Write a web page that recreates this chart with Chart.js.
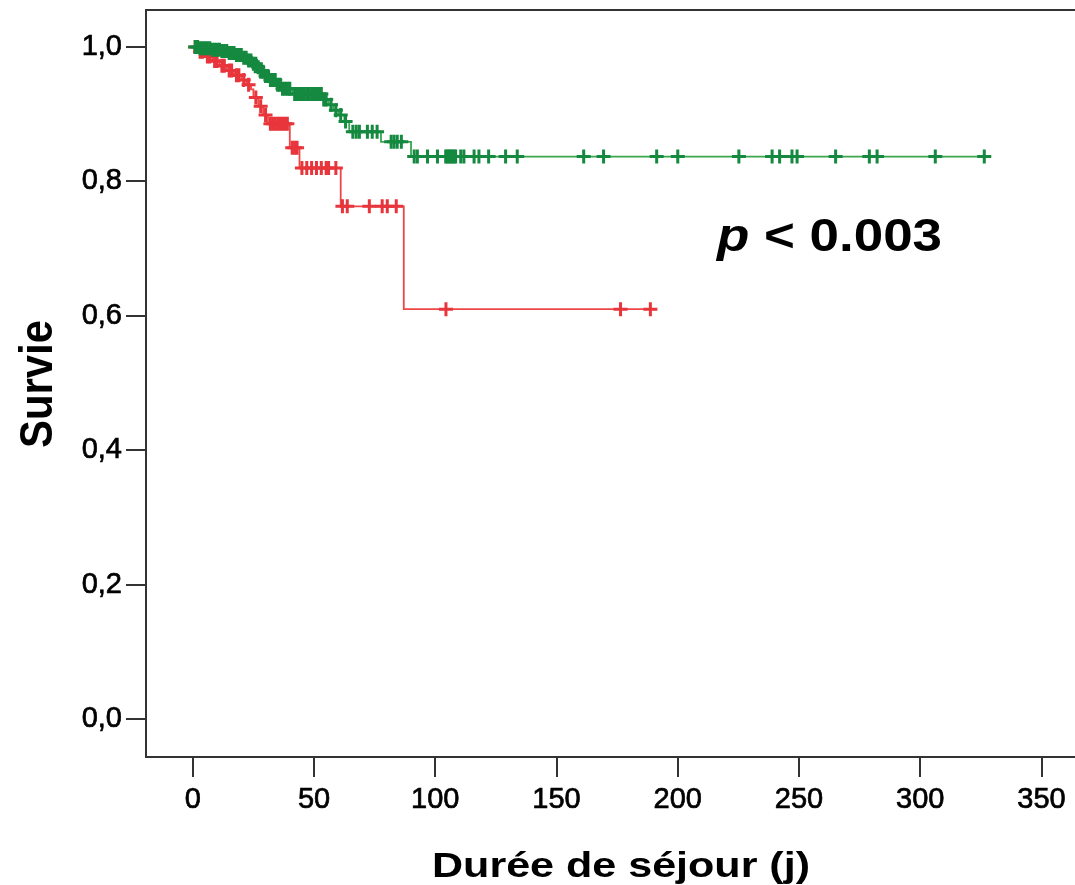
<!DOCTYPE html>
<html>
<head>
<meta charset="utf-8">
<title>Survie – durée de séjour</title>
<script src="https://cdn.jsdelivr.net/npm/chart.js@4/dist/chart.umd.min.js"></script>
<style>
  html, body { margin: 0; padding: 0; background: #fff; overflow: hidden; }
  #wrap { width: 1100px; height: 885px; }
</style>
</head>
<body>
<div id="wrap"><canvas id="km" width="1100" height="885"></canvas></div>
<script>
// Axis tick labels
const xTicks = [0, 50, 100, 150, 200, 250, 300, 350];
const yTicks = [0, 0.2, 0.4, 0.6, 0.8, 1.0];

// Green group: event days and survival after each event
const greenEventDays = [0, 3, 8, 12, 15, 18, 21, 23, 25, 26.5, 28, 30, 32, 35, 37, 41, 53.5, 56, 58, 60, 62.5, 64.5, 77.6, 90];
const greenSurvival  = [1.0, 0.998, 0.996, 0.994, 0.991, 0.988, 0.984, 0.980, 0.975, 0.970, 0.963, 0.957, 0.951, 0.944, 0.938, 0.930, 0.922, 0.914, 0.906, 0.899, 0.889, 0.874, 0.859, 0.837];
const greenLastDay = 327;
// Green group: censored patients (days)
const greenCensoredDays = [
  1, 2, 3, 4, 5, 6, 7, 8, 9, 10, 11, 12, 13, 14, 15, 16, 17, 18, 19, 20,
  21, 22, 23, 24, 25, 26, 27, 28, 29, 30, 31, 32, 33, 34, 35, 36, 37, 38, 39, 40,
  42, 43, 44, 45, 46, 47, 48, 49, 50, 51, 52, 53, 54, 55, 57, 59, 61, 63,
  66, 67.4, 68.7, 72, 74, 76, 81.8, 83, 84.3, 86,
  91.3, 92.6, 96.8, 100.9, 104.3, 105, 105.7, 106.4, 107, 107.7, 108.4, 110.5, 111.8,
  116, 118, 122, 129, 133.8, 161.2, 169.4, 191.3, 200, 225.2, 238.9, 242, 247.1, 249.2,
  265.1, 279, 282.2, 306.2, 326.4
];

// Red group: event days and survival after each event
const redEventDays = [0, 2, 5, 8, 11, 14, 17, 20, 22, 24, 25, 27, 29, 31, 40, 44, 61, 87];
const redSurvival  = [1.0, 0.993, 0.986, 0.979, 0.972, 0.965, 0.958, 0.951, 0.944, 0.937, 0.925, 0.912, 0.899, 0.886, 0.850, 0.820, 0.763, 0.610];
const redLastDay = 190;
// Red group: censored patients (days)
const redCensoredDays = [
  1, 3, 4, 6, 7, 9, 10, 12, 13, 15, 16, 18, 19, 21, 23, 26, 28, 30, 32, 33,
  34, 35, 36, 37, 38, 39, 41, 42, 43, 45, 47, 49, 51, 53, 55, 56, 59,
  61.7, 63.7, 72.8, 78.1, 80.2, 83.9, 104.4, 176.4, 188.7
];

const FONT = "'Liberation Sans', Arial, Helvetica, sans-serif";

// Kaplan–Meier step points (event points plus the last follow-up day)
function stepPoints(days, surv, lastDay) {
  const pts = days.map((d, i) => ({ x: d, y: surv[i] }));
  pts.push({ x: lastDay, y: surv[surv.length - 1] });
  return pts;
}
// Survival level of the step curve at day t
function survivalAt(days, surv, t) {
  let s = surv[0];
  for (let i = 0; i < days.length; i++) if (days[i] <= t) s = surv[i];
  return s;
}
function censorPoints(cDays, days, surv) {
  return cDays.map(t => ({ x: t, y: survivalAt(days, surv, t) }));
}

// Draws text horizontally fitted to a given width
function fitText(ctx, text, x, y, font, width) {
  ctx.save();
  ctx.font = font;
  const w = ctx.measureText(text).width;
  ctx.translate(x, y);
  ctx.scale(width / w, 1);
  ctx.textAlign = 'left';
  ctx.textBaseline = 'alphabetic';
  ctx.fillText(text, 0, 0);
  ctx.restore();
}

const decorations = {
  id: 'decorations',
  afterDraw(chart) {
    const { ctx, chartArea } = chart;
    ctx.save();
    // top frame line
    ctx.strokeStyle = '#333';
    ctx.lineWidth = 2;
    ctx.beginPath();
    ctx.moveTo(chartArea.left - 1, chartArea.top);
    ctx.lineTo(chartArea.right, chartArea.top);
    ctx.stroke();

    ctx.fillStyle = '#000';
    // x axis title
    fitText(ctx, 'Durée de séjour (j)', 432, 877, 'bold 35px ' + FONT, 378);

    // y axis title (rotated)
    ctx.save();
    ctx.translate(52, 448);
    ctx.rotate(-Math.PI / 2);
    fitText(ctx, 'Survie', 0, 0, 'bold 46px ' + FONT, 128);
    ctx.restore();

    // p-value annotation
    ctx.save();
    const pFont = 'italic bold 47px ' + FONT;
    const restFont = 'bold 47px ' + FONT;
    ctx.font = pFont;
    const w1 = ctx.measureText('p').width;
    ctx.font = restFont;
    const w2 = ctx.measureText(' < 0.003').width;
    const k = 225 / (w1 + w2);
    ctx.translate(717, 251);
    ctx.scale(k, 1);
    ctx.textBaseline = 'alphabetic';
    ctx.font = pFont;
    ctx.fillText('p', 0, 0);
    ctx.font = restFont;
    ctx.fillText(' < 0.003', w1, 0);
    ctx.restore();

    ctx.restore();
  }
};

const greenLine = stepPoints(greenEventDays, greenSurvival, greenLastDay);
const redLine = stepPoints(redEventDays, redSurvival, redLastDay);
const greenMarks = censorPoints(greenCensoredDays, greenEventDays, greenSurvival);
const redMarks = censorPoints(redCensoredDays, redEventDays, redSurvival);

const axisGrid = { drawOnChartArea: false, drawTicks: true, tickLength: 20, color: '#333', lineWidth: 2 };
const axisBorder = { display: true, color: '#333', width: 2 };
const tickFont = { family: FONT, size: 29 };

new Chart(document.getElementById('km'), {
  type: 'line',
  data: {
    datasets: [
      { data: redLine, stepped: 'before', borderColor: '#ee4646', borderWidth: 1.8, pointRadius: 0, fill: false, order: 4 },
      { data: redMarks, showLine: false, pointStyle: 'cross', pointRadius: 7, pointBorderWidth: 3,
        pointBorderColor: '#e8353b', pointBackgroundColor: '#e8353b', order: 3 },
      { data: greenLine, stepped: 'before', borderColor: '#3aa64e', borderWidth: 1.8, pointRadius: 0, fill: false, order: 2 },
      { data: greenMarks, showLine: false, pointStyle: 'cross', pointRadius: 7, pointBorderWidth: 3,
        pointBorderColor: '#14893f', pointBackgroundColor: '#14893f', order: 1 }
    ]
  },
  options: {
    responsive: false,
    devicePixelRatio: 1,
    animation: false,
    events: [],
    layout: { padding: { top: 8, right: 7, left: 0, bottom: 0 } },
    plugins: { legend: { display: false }, tooltip: { enabled: false } },
    scales: {
      x: {
        type: 'linear',
        min: -19.3,
        max: 370,
        afterBuildTicks: s => { s.ticks = xTicks.map(v => ({ value: v })); },
        afterFit: s => { s.height = 128; s.paddingLeft = 0; s.paddingRight = 0; },
        grid: axisGrid,
        border: axisBorder,
        ticks: { font: tickFont, color: '#000', textStrokeColor: '#000', textStrokeWidth: 0.7,
                 padding: 6, maxRotation: 0, autoSkip: false, callback: v => String(v) }
      },
      y: {
        type: 'linear',
        min: -0.056,
        max: 1.055,
        afterBuildTicks: s => { s.ticks = yTicks.map(v => ({ value: v })); },
        afterFit: s => { s.width = 146; s.paddingTop = 0; s.paddingBottom = 0; },
        grid: axisGrid,
        border: axisBorder,
        ticks: { font: tickFont, color: '#000', textStrokeColor: '#000', textStrokeWidth: 0.7,
                 padding: 4, autoSkip: false, callback: v => v.toFixed(1).replace('.', ',') }
      }
    }
  },
  plugins: [decorations]
});
</script>
</body>
</html>
